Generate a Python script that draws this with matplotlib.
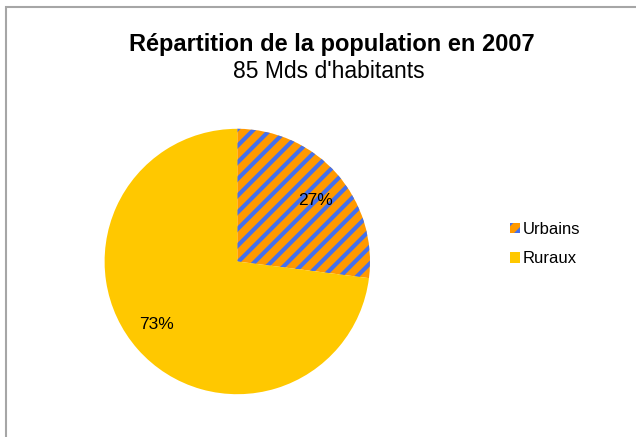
import matplotlib
matplotlib.use("Agg")
import numpy as np
import matplotlib.pyplot as plt
from matplotlib.patches import Rectangle

plt.rcParams['font.family'] = ['Liberation Sans', 'DejaVu Sans']
plt.rcParams['hatch.linewidth'] = 3.0
plt.rcParams['hatch.color'] = '#4570ec'

categories = ["Urbains", "Ruraux"]
values = [27, 73]
title = "Répartition de la population en 2007"
subtitle = "85 Mds d'habitants"

W, H = 636, 437
fig = plt.figure(figsize=(W/100, H/100), dpi=100)
fig.patch.set_facecolor('white')

# border
fig.patches.append(Rectangle((6/W, -0.1), 1.1, 1 - 7/H + 0.1, transform=fig.transFigure,
                             fill=False, edgecolor='#a6a6a6', linewidth=1.5))

cx, cy, r = 237.3, 261.5, 132.7
ax = fig.add_axes([(cx - r)/W, (H - cy - r)/H, 2*r/W, 2*r/H])
wedges, texts, autotexts = ax.pie(values, startangle=90, counterclock=False,
                                  colors=['#ff9900', '#ffc800'],
                                  autopct='%d%%', pctdistance=0.77,
                                  textprops=dict(fontsize=12.5, color='black'),
                                  wedgeprops=dict(linewidth=0))
wedges[0].set_hatch('//')
wedges[0].set_edgecolor('#4570ec')
wedges[0].set_linewidth(0)

# label placement: slightly rotated clockwise from wedge middle
for w, t, d in zip(wedges, autotexts, [0.745, 0.775]):
    mid = np.deg2rad((w.theta1 + w.theta2) / 2 - 3.5)
    t.set_position((d * np.cos(mid), d * np.sin(mid)))

ax.set_xlim(-1, 1)
ax.set_ylim(-1, 1)
ax.set_aspect('auto')

fig.text(332/W, 1 - 45/H, title, ha='center', va='center', fontsize=17, fontweight='bold')
fig.text(329/W, 1 - 72/H, subtitle, ha='center', va='center', fontsize=16.5)

leg = fig.legend(wedges, categories, loc='center left', bbox_to_anchor=(495/W, 1 - 244/H),
                 frameon=False, fontsize=12, handlelength=0.6, handleheight=0.6,
                 handletextpad=0.15, labelspacing=0.85)
plt.savefig('out.png', dpi=100)
